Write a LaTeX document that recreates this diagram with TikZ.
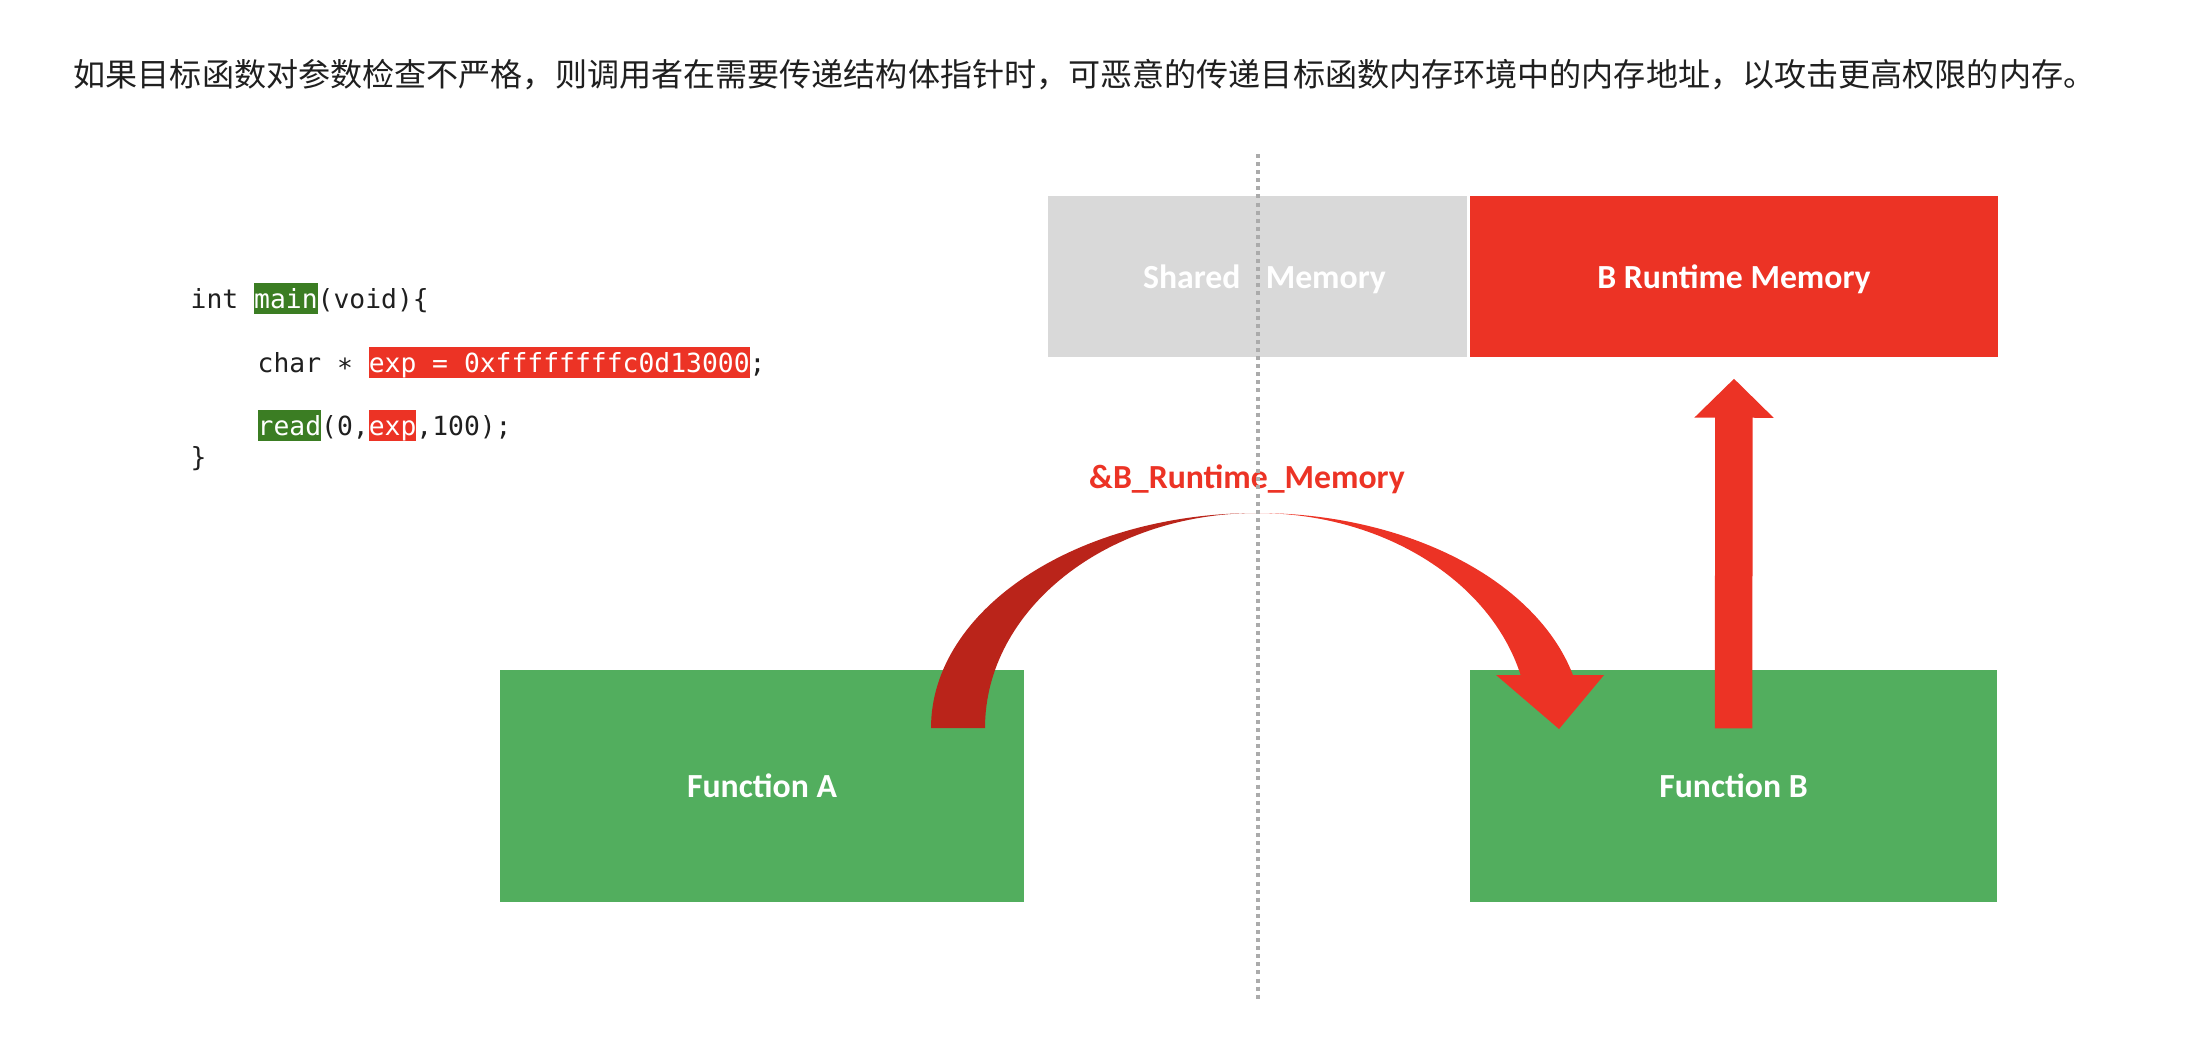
\documentclass[tikz,border=0pt]{standalone}
\usepackage{fontspec}
\usepackage{xcolor}
\usepackage{tikz}
\usetikzlibrary{arrows.meta,positioning,calc}
\newfontfamily\cjk{Noto Sans CJK SC}
\newfontfamily\labelfont{Carlito}
\newfontfamily\codefont{DejaVu Sans Mono}
\definecolor{fgreen}{HTML}{52AE5E}
\definecolor{memred}{HTML}{EC3325}
\definecolor{arcdark}{HTML}{BA241A}
\definecolor{sharedgray}{HTML}{D9D9D9}
\definecolor{hlgreen}{HTML}{3B7D23}
\definecolor{dotgray}{HTML}{ABABAB}
\definecolor{inkgray}{HTML}{1F1F1F}
\newcommand{\hlg}[1]{{\setlength{\fboxsep}{0pt}\colorbox{hlgreen}{\textcolor{white}{\rule[-.23em]{0pt}{1.17em}#1}}}}
\newcommand{\hlr}[1]{{\setlength{\fboxsep}{0pt}\colorbox{memred}{\textcolor{white}{\rule[-.23em]{0pt}{1.17em}#1}}}}

\begin{document}
\begin{tikzpicture}[
    box/.style={rectangle, inner sep=0pt, text=white, text depth=0pt,
        font=\labelfont\bfseries\fontsize{9.6}{11}\selectfont},
    codeline/.style={anchor=base west, inner sep=0pt, text=inkgray,
        font=\codefont\fontsize{7.5}{9}\selectfont}
]
    \useasboundingbox (0,0) rectangle (22.12,-10.44);

    % Title
    \node[anchor=west, inner sep=0pt, text=inkgray, font=\cjk\fontsize{9.13}{11}\selectfont] (title) at (0.73,-0.75)
        {如果目标函数对参数检查不严格，则调用者在需要传递结构体指针时，可恶意的传递目标函数内存环境中的内存地址，以攻击更高权限的内存。};

    % Code
    \node[codeline] (code1) at (1.90,-3.08) {int \hlg{main}(void)\{};
    \node[codeline] (code2) at (2.57,-3.72) {char \raisebox{-.22em}{*} \hlr{exp = 0xffffffffc0d13000};};
    \node[codeline] (code3) at (2.57,-4.35) {\hlg{read}(0,\hlr{exp},100);};
    \node[codeline] (code4) at (1.90,-4.66) {\}};

    % Memory blocks
    \node[box, fill=sharedgray, minimum width=4.19cm, minimum height=1.61cm] (shared) at (12.575,-2.765) {\hspace*{0.14cm}Shared\hspace{0.75em}Memory};
    \node[box, fill=memred, minimum width=5.28cm, minimum height=1.61cm] (bmem) at (17.34,-2.765) {B Runtime Memory};

    % Functions
    \node[box, fill=fgreen, minimum width=5.24cm, minimum height=2.32cm] (fA) at (7.62,-7.86) {Function A};
    \node[box, fill=fgreen, minimum width=5.27cm, minimum height=2.32cm] (fB) at (17.335,-7.86) {Function B};

    % Curved arrow A -> B
    \coordinate (arcL) at (9.31,-7.28);
    \coordinate (apex) at (12.57,-5.13);
    \coordinate (tipB) at (15.59,-7.29);
    \fill[arcdark] (arcL) arc[start angle=180, end angle=90, x radius=3.26cm, y radius=2.15cm]
        arc[start angle=90, end angle=180, x radius=2.72cm, y radius=2.15cm] -- cycle;
    \fill[memred] (apex) arc[start angle=90, end angle=14.27, x radius=3.26cm, y radius=2.15cm]
        -- (16.04,-6.75) -- (tipB) -- (14.96,-6.75) -- (15.206,-6.75)
        arc[start angle=14.27, end angle=90, x radius=2.72cm, y radius=2.15cm] -- cycle;
    \node[text=memred, inner sep=0pt, font=\labelfont\bfseries\fontsize{9.6}{11}\selectfont] (addr) at (12.47,-4.79) {\&B\_Runtime\_Memory};

    % B -> its runtime memory
    \draw[memred, line width=0.375cm, -{Triangle[width=0.77cm, length=0.39cm]}]
        ($(fB.north)+(0,-0.59)$) -- ($(bmem.south)+(0,-0.21)$);

    % Divider
    \coordinate (divtop) at (12.58,-1.54);
    \coordinate (divbot) at (12.58,-9.99);
    \draw[dotgray, line width=1.05pt, dash pattern=on 1.15pt off 1.15pt] (divtop) -- (divbot);
\end{tikzpicture}
\end{document}
